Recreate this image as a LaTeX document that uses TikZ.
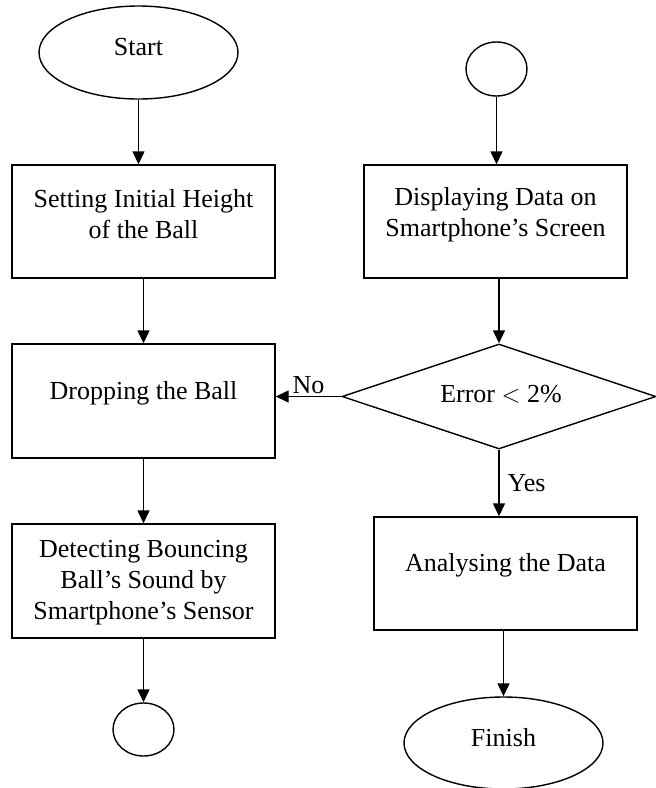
\documentclass[tikz,border=0pt]{standalone}
\usepackage{fontspec}
\setmainfont{Liberation Serif}
\usetikzlibrary{shapes.geometric,arrows.meta}
\begin{document}
\begin{tikzpicture}[x=1pt,y=-1pt,
  every node/.style={font=\fontsize{26}{31}\selectfont},
  boxnode/.style={draw,line width=1.4pt,rectangle,minimum width=263pt,minimum height=113pt,inner sep=0pt},
  ovalnode/.style={draw,line width=1.4pt,ellipse,inner sep=0pt},
  decnode/.style={draw,line width=1.4pt,diamond,shape aspect=3,minimum width=314pt,minimum height=105pt,inner sep=0pt},
  txt/.style={align=center,inner sep=0pt},
  conn/.style={line width=1.4pt,-{Triangle[length=13pt,width=12pt]}}]
\useasboundingbox (0,0) rectangle (656,788);
% left column
\node[ovalnode,minimum width=199pt,minimum height=93pt] (start) at (138.5,52.5) {};
\node[txt] (tstart) at (138.5,47) {Start};
\node[boxnode] (b1) at (143.5,221.5) {};
\node[txt] (t1) at (143.5,214.5) {Setting Initial Height\\of the Ball};
\node[boxnode,minimum height=114pt] (b2) at (143.5,401) {};
\node[txt] (t2) at (143.5,393) {Dropping the Ball};
\node[boxnode,minimum height=114pt] (b3) at (143.5,581) {};
\node[txt] (t3) at (143.5,583) {Detecting Bouncing\\Ball's Sound by\\Smartphone's Sensor};
\node[ovalnode,minimum width=61pt,minimum height=53pt] (c1) at (143.5,729.5) {};
% right column
\node[ovalnode,minimum width=61pt,minimum height=54pt] (c2) at (496.5,69) {};
\node[boxnode] (b4) at (495.5,221.5) {};
\node[txt] (t4) at (495.5,214.5) {Displaying Data on\\Smartphone's Screen};
\node[decnode] (d) at (499,396.5) {};
\node[txt] (td) at (501,394) {Error $<$ 2\%};
\node[boxnode] (b5) at (505.5,573.5) {};
\node[txt] (t5) at (505.5,565) {Analysing the Data};
\node[ovalnode,minimum width=199pt,minimum height=92pt] (fin) at (503.5,743) {};
\node[txt] (tfin) at (503.5,738) {Finish};
% connectors
\draw[conn] (start.south) -- (start.south |- b1.north);
\draw[conn] (b1.south) -- (b2.north);
\draw[conn] (b2.south) -- (b3.north);
\draw[conn] (b3.south) -- (c1.north);
\draw[conn] (c2.south) -- (c2.south |- b4.north);
\draw[conn] (d.north |- b4.south) -- (d.north);
\draw[conn] (d.west) -- (d.west -| b2.east) node[midway,above=2pt,inner sep=0pt] (lno) {No};
\draw[conn] (d.south) -- (d.south |- b5.north) node[midway,right=8pt,inner sep=0pt] (lyes) {Yes};
\draw[conn] (fin.north |- b5.south) -- (fin.north);
\end{tikzpicture}
\end{document}
